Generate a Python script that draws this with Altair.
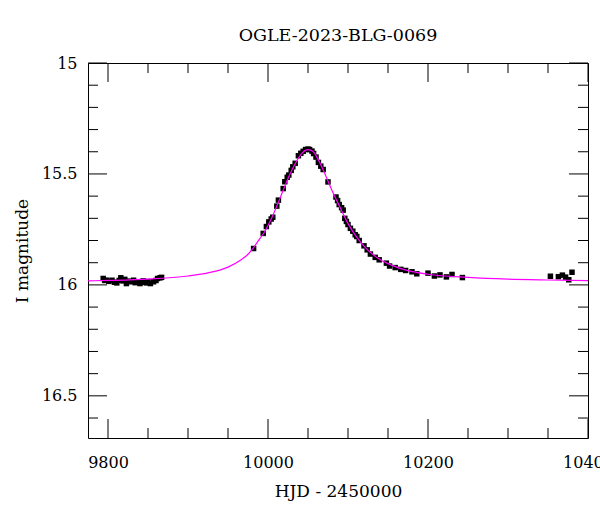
import altair as alt
import pandas as pd

# ---------------- data ----------------
obs_t = [9794, 9796, 9798, 9801, 9805, 9808, 9811, 9814, 9816, 9819, 9821, 9823,
         9826, 9828, 9832, 9834, 9837, 9840, 9842, 9844, 9848, 9850, 9853, 9857,
         9860, 9862, 9865, 9867,
         9982, 9994, 9998, 10001, 10004, 10006, 10011, 10013, 10019, 10021, 10024,
         10026, 10029, 10031, 10034, 10038, 10041, 10044, 10047, 10050, 10052,
         10055, 10057, 10060, 10063, 10066, 10069, 10075, 10085, 10087, 10089,
         10092, 10094, 10096, 10098, 10100, 10103, 10106, 10109, 10111, 10114,
         10120, 10124, 10128, 10134, 10139, 10148, 10152, 10159, 10166, 10172,
         10180, 10186, 10200, 10208, 10215, 10223, 10230, 10243,
         10353, 10363, 10368, 10372, 10376, 10380]
obs_mag = [15.971, 15.980, 15.979, 15.984, 15.979, 15.988, 15.991, 15.980, 15.968,
           15.982, 15.975, 15.994, 15.983, 15.986, 15.979, 15.990, 15.986, 15.994,
           15.988, 15.982, 15.991, 15.985, 15.994, 15.986, 15.980, 15.971, 15.968,
           15.966,
           15.836, 15.768, 15.737, 15.716, 15.703, 15.695, 15.645, 15.618, 15.566,
           15.535, 15.515, 15.505, 15.484, 15.468, 15.452, 15.418, 15.407, 15.398,
           15.390, 15.388, 15.390, 15.397, 15.408, 15.424, 15.448, 15.465, 15.480,
           15.536, 15.604, 15.620, 15.638, 15.652, 15.663, 15.700, 15.714, 15.728,
           15.745, 15.758, 15.774, 15.782, 15.800, 15.824, 15.842, 15.861, 15.876,
           15.887, 15.902, 15.915, 15.922, 15.930, 15.935, 15.941, 15.950, 15.947,
           15.960, 15.955, 15.964, 15.953, 15.967,
           15.961, 15.963, 15.956, 15.965, 15.977, 15.943]

model_t = [9775, 9800, 9850, 9900, 9925, 9950, 9965, 9975, 9982, 9990, 9995, 10005,
           10015, 10025, 10035, 10042, 10050, 10056, 10062, 10070, 10080, 10090,
           10100, 10110, 10120, 10130, 10140, 10155, 10175, 10200, 10250, 10300,
           10350, 10400]
model_mag = [15.982, 15.980, 15.974, 15.960, 15.946, 15.920, 15.890, 15.862, 15.832,
             15.790, 15.765, 15.695, 15.610, 15.520, 15.447, 15.408, 15.390, 15.398,
             15.430, 15.490, 15.575, 15.650, 15.724, 15.780, 15.825, 15.860, 15.886,
             15.912, 15.936, 15.952, 15.966, 15.974, 15.978, 15.981]

x_major = [9800, 10000, 10200, 10400]
x_minor = [9850, 9900, 9950, 10050, 10100, 10150, 10250, 10300, 10350]
y_major = [15.0, 15.5, 16.0, 16.5]
y_minor = [15.1, 15.2, 15.3, 15.4, 15.6, 15.7, 15.8, 15.9, 16.1, 16.2, 16.3, 16.4, 16.6]

title_text = "OGLE-2023-BLG-0069"
x_title = "HJD - 2450000"
y_title = "I magnitude"

# ---------------- chart ----------------
W, H = 500, 375
FONT = "DejaVu Serif"
MAJ, MIN = 19, 10

xs = alt.Scale(domain=[9775, 10400], nice=False, zero=False)
ys = alt.Scale(domain=[15.0, 16.69], reverse=True, nice=False, zero=False)

x_axis = alt.Axis(values=x_major, format="d", title=x_title, ticks=False, tickSize=0,
                  domain=False, grid=False, labelPadding=16, labelFlush=False,
                  labelOverlap=False, titlePadding=13)
y_axis = alt.Axis(values=y_major, format="~g", title=y_title, ticks=False, tickSize=0,
                  domain=False, grid=False, labelPadding=11, labelOverlap=False,
                  titlePadding=10)

obs = pd.DataFrame({"t": obs_t, "mag": obs_mag})
model = pd.DataFrame({"t": model_t, "mag": model_mag})

points = alt.Chart(obs).mark_square(color="black", size=30, opacity=1).encode(
    x=alt.X("t:Q", scale=xs, axis=x_axis),
    y=alt.Y("mag:Q", scale=ys, axis=y_axis),
)

line = alt.Chart(model).mark_line(color="#ff00ff", strokeWidth=1.2,
                                  interpolate="monotone").encode(
    x=alt.X("t:Q", scale=xs, axis=x_axis),
    y=alt.Y("mag:Q", scale=ys, axis=y_axis),
)


def xticks(vals, length):
    d = pd.DataFrame({"v": vals})
    bottom = alt.Chart(d).mark_rule(color="black", strokeWidth=1).encode(
        x=alt.X("v:Q", scale=xs, axis=x_axis), y=alt.value(H), y2=alt.value(H - length))
    top = alt.Chart(d).mark_rule(color="black", strokeWidth=1).encode(
        x=alt.X("v:Q", scale=xs, axis=x_axis), y=alt.value(0), y2=alt.value(length))
    return [bottom, top]


def yticks(vals, length):
    d = pd.DataFrame({"v": vals})
    left = alt.Chart(d).mark_rule(color="black", strokeWidth=1).encode(
        y=alt.Y("v:Q", scale=ys, axis=y_axis), x=alt.value(0), x2=alt.value(length))
    right = alt.Chart(d).mark_rule(color="black", strokeWidth=1).encode(
        y=alt.Y("v:Q", scale=ys, axis=y_axis), x=alt.value(W), x2=alt.value(W - length))
    return [left, right]


layers = [points, line] + xticks(x_major, MAJ) + xticks(x_minor, MIN) \
    + yticks(y_major, MAJ) + yticks(y_minor, MIN)

chart = alt.layer(*layers).properties(
    width=W, height=H,
    title=alt.Title(title_text, font=FONT, fontSize=17.5, fontWeight="normal",
                    color="black", anchor="middle", offset=11),
    padding={"left": 88, "top": 63, "right": 12, "bottom": 74},
    autosize=alt.AutoSizeParams(type="none"),
).configure_view(
    stroke="black", strokeWidth=1
).configure_axis(
    labelFont=FONT, labelFontSize=16, labelColor="black",
    titleFont=FONT, titleFontSize=17, titleColor="black", titleFontWeight="normal",
)

chart.save("out.html", embed_options={"renderer": "svg", "actions": False})
